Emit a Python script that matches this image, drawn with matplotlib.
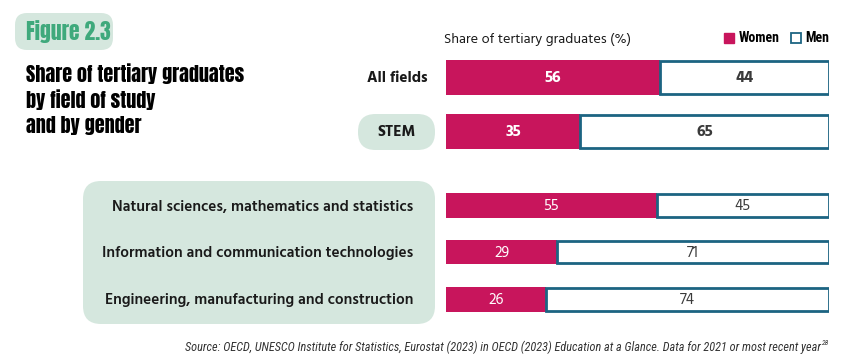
import matplotlib
matplotlib.use("Agg")
import matplotlib.pyplot as plt
from matplotlib.patches import FancyBboxPatch, Patch
from matplotlib.transforms import IdentityTransform

# ---------------- data ----------------
categories = ["All fields", "STEM",
              "Natural sciences, mathematics and statistics",
              "Information and communication technologies",
              "Engineering, manufacturing and construction"]
women = [56, 35, 55, 29, 26]
men = [44, 65, 45, 71, 74]
series_names = ["Women", "Men"]
figure_tag = "Figure 2.3"
title_lines = ["Share of tertiary graduates", "by field of study", "and by gender"]
axis_title = "Share of tertiary graduates (%)"
source = ("Source: OECD, UNESCO Institute for Statistics, Eurostat (2023) in OECD (2023) "
          "Education at a Glance. Data for 2021 or most recent year")
source_note = "28"

# ---------------- style ----------------
W, H = 849, 357
WOMEN_C = "#C8155C"
MEN_EDGE = "#1C6482"
GREEN_BG = "#D5E7DE"
GREEN_TXT = "#3FA97C"
DARK = "#1a1a1a"

TITLE_F = ["Anton", "DejaVu Sans"]
BODY_F = ["Hind", "Open Sans", "DejaVu Sans"]
COND_F = ["Roboto Condensed", "DejaVu Sans"]

fig = plt.figure(figsize=(W / 100, H / 100), dpi=100)
fig.patch.set_facecolor("white")

def px(x, y):
    return x / W, 1 - y / H

def rbox(x0, y0, x1, y1, r, color):
    p = FancyBboxPatch((x0 + r, H - y1 + r), (x1 - x0) - 2 * r, (y1 - y0) - 2 * r,
                       boxstyle=f"round,pad={r},rounding_size={r}",
                       transform=IdentityTransform(), facecolor=color,
                       edgecolor="none", zorder=0)
    fig.add_artist(p)

# background boxes
rbox(15, 13, 113, 50, 12, GREEN_BG)
rbox(358, 114, 435, 150, 17.5, GREEN_BG)
rbox(83, 181, 435, 324, 18, GREEN_BG)

# bars axes
x0, x1 = 446, 829
ytop, ybot = 50, 320
ax = fig.add_axes([x0 / W, 1 - ybot / H, (x1 - x0) / W, (ybot - ytop) / H])
ax.set_xlim(0, 100)
ax.set_ylim(ybot, ytop)
ax.axis("off")

ypos = [77, 131.5, 205.5, 252, 299]
heights = [35, 35, 25, 24, 25]

ax.barh(ypos, women, height=heights, color=WOMEN_C, edgecolor="none", zorder=2)
ax.barh(ypos, men, left=women, height=[h - 2 for h in heights], color="white",
        edgecolor=MEN_EDGE, linewidth=2, zorder=3)

for i, (w, m, y) in enumerate(zip(women, men, ypos)):
    bold = i < 2
    ax.text(w / 2, y + 1, str(w), ha="center", va="center", color="white",
            fontsize=11.5 if bold else 11, fontweight="bold" if bold else "normal",
            family=BODY_F, zorder=4)
    ax.text(w + m / 2, y + 1, str(m), ha="center", va="center",
            color="#3a3a3a", fontsize=11.5 if bold else 11,
            fontweight="bold" if bold else "normal", family=BODY_F, zorder=4)

# category labels
fig.text(*px(428, 77.5), categories[0], ha="right", va="center", fontsize=11,
         fontweight="bold", family=BODY_F, color=DARK)
fig.text(*px(396.5, 132.5), categories[1], ha="center", va="center", fontsize=11,
         fontweight="bold", family=BODY_F, color=DARK)
for lab, y in zip(categories[2:], ypos[2:]):
    fig.text(*px(413, y + 1), lab, ha="right", va="center", fontsize=11.1,
             fontweight="semibold", family=BODY_F, color=DARK)

# figure tag and title
fig.text(*px(25.5, 32), figure_tag, ha="left", va="center", fontsize=15.5,
         family=TITLE_F, color=GREEN_TXT)
for k, line in enumerate(title_lines):
    fig.text(*px(26, 73.5 + 26 * k), line, ha="left", va="center", fontsize=14.5,
             family=TITLE_F, color="black")

# axis title
fig.text(*px(444, 39), axis_title, ha="left", va="center", fontsize=10.2,
         family=BODY_F, color=DARK)

# legend
handles = [Patch(facecolor=WOMEN_C, edgecolor=WOMEN_C),
           Patch(facecolor="white", edgecolor=MEN_EDGE, linewidth=1.3)]
leg = fig.legend(handles, series_names, loc="center right",
                 bbox_to_anchor=(829 / W, 1 - 38.5 / H), ncol=2, frameon=False,
                 handlelength=0.75, handleheight=0.75, handletextpad=0.3,
                 columnspacing=0.8, borderaxespad=0, borderpad=0,
                 prop={"family": COND_F, "weight": "bold", "size": 10})

# source
fig.text(*px(821, 347), source, ha="right", va="center", fontsize=8.8,
         style="italic", family=COND_F, color="#333333")
fig.text(*px(821.5, 343), source_note, ha="left", va="center", fontsize=5.5,
         style="italic", family=COND_F, color="#333333")

fig.savefig("out.png", dpi=100, facecolor="white")
